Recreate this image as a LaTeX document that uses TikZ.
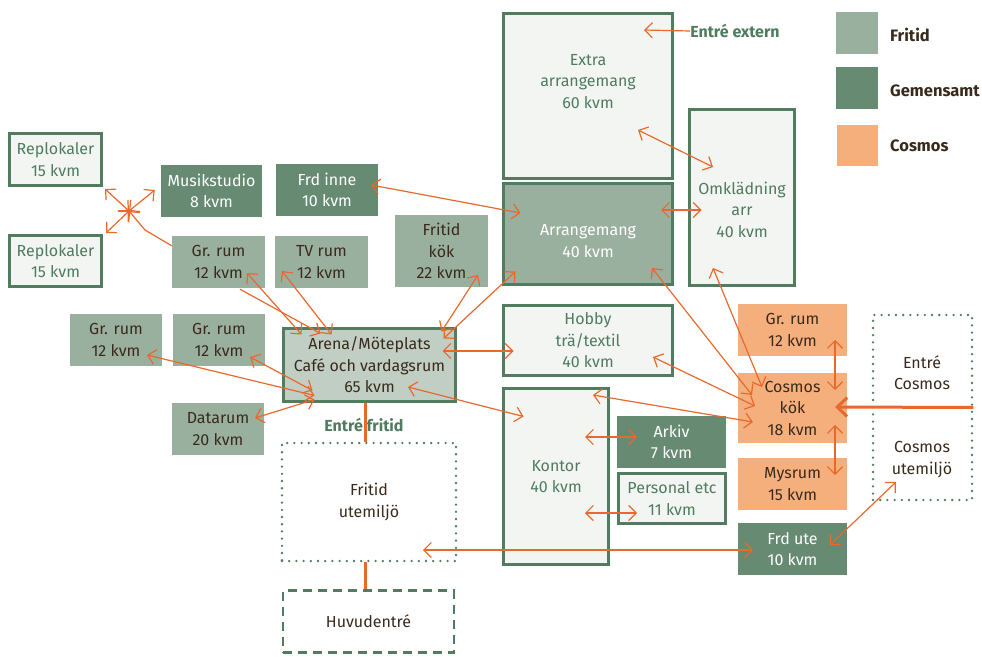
\documentclass[tikz,border=0pt]{standalone}
\usepackage{fontspec}
\setmainfont{Fira Sans}
\usetikzlibrary{arrows.meta}

\definecolor{fritidfill}{HTML}{9AB09F}
\definecolor{gemfill}{HTML}{668A72}
\definecolor{cosmosfill}{HTML}{F5AF7D}
\definecolor{lightfill}{HTML}{F3F5F2}
\definecolor{arenafill}{HTML}{C0CEC3}
\definecolor{bordergreen}{HTML}{527C60}
\definecolor{greentext}{HTML}{4F7B5F}
\definecolor{darktext}{HTML}{3A2A1C}
\definecolor{linkorange}{HTML}{E8692C}

\newcommand{\roomfont}{\fontsize{16}{21.5}\selectfont}

\tikzset{
  room/.style={rectangle, inner sep=0pt, align=center, font=\roomfont},
  fritid/.style={room, fill=fritidfill, text=darktext},
  gemen/.style={room, fill=gemfill, text=white},
  cosmos/.style={room, fill=cosmosfill, text=darktext},
  lightroom/.style={room, fill=lightfill, draw=bordergreen, line width=3pt, text=greentext},
  outdoor/.style={room, draw=bordergreen, line width=2.6pt, dash pattern=on 0pt off 7.2pt, line cap=round, text=darktext},
  plain/.style={inner sep=0pt, align=center, font=\roomfont, text=darktext},
  entry/.style={inner sep=0pt, font=\roomfont\bfseries, text=greentext},
  legendtext/.style={inner sep=0pt, anchor=west, font=\fontsize{16.5}{20}\selectfont\bfseries, text=darktext},
  barb/.tip={Straight Barb[length=7.5pt, width=15pt]},
  link/.style={draw=linkorange, line width=1.2pt, barb-barb},
  onelink/.style={draw=linkorange, line width=1.2pt, -barb},
  trunk/.style={draw=linkorange, line width=3pt},
}

\begin{document}
\begin{tikzpicture}[x=1pt, y=-1pt]
\useasboundingbox (0,0) rectangle (982,656);

% ---- Legend ----
\node[room, fill=fritidfill, minimum width=42, minimum height=42] (legF) at (857,33) {};
\node[room, fill=gemfill, minimum width=42, minimum height=42] (legG) at (857,88) {};
\node[room, fill=cosmosfill, minimum width=41, minimum height=41] (legC) at (857.5,145.5) {};
\node[legendtext] (legFt) at (890,35) {Fritid};
\node[legendtext] (legGt) at (890,91) {Gemensamt};
\node[legendtext] (legCt) at (890,146) {Cosmos};

% ---- Fritid wing ----
\node[lightroom, minimum width=92, minimum height=52] (rep1) at (55.5,159.5) {Replokaler\\15 kvm};
\node[lightroom, minimum width=92, minimum height=51] (rep2) at (55.5,261) {Replokaler\\15 kvm};
\node[gemen, minimum width=101, minimum height=52] (musik) at (211.5,191) {Musikstudio\\8 kvm};
\node[gemen, minimum width=102, minimum height=52] (frdinne) at (327,190) {Frd inne\\10 kvm};
\node[fritid, minimum width=93, minimum height=52] (grrum1) at (218.5,262) {Gr. rum\\12 kvm};
\node[fritid, minimum width=93, minimum height=52] (tvrum) at (321.5,262) {TV rum\\12 kvm};
\node[fritid, minimum width=93, minimum height=72] (kok) at (441.5,251) {Fritid\\kök\\22 kvm};
\node[fritid, minimum width=92, minimum height=52] (grrumL) at (116,340) {Gr. rum\\12 kvm};
\node[fritid, minimum width=92, minimum height=52] (grrumM) at (219,340) {Gr. rum\\12 kvm};
\node[fritid, minimum width=92, minimum height=52] (data) at (218,429) {Datarum\\20 kvm};
\node[room, fill=arenafill, draw=bordergreen, line width=3pt, text=darktext,
      minimum width=172, minimum height=73] (arena) at (369.5,365)
      {Arena/Möteplats\\Café och vardagsrum\\65 kvm};
\node[entry] (entfri) at (364,425) {Entré fritid};
\node[outdoor, minimum width=174, minimum height=118] (utefri) at (369,502) {Fritid\\utemiljö};
\node[room, draw=bordergreen, line width=2.5pt, dash pattern=on 9pt off 6pt, text=darktext,
      minimum width=171, minimum height=62] (huvud) at (368.5,621.5) {Huvudentré};

% ---- Shared block ----
\node[lightroom, minimum width=169, minimum height=165] (extra) at (588,96) {};
\node[plain, text=greentext] (extratxt) at (588,81.5) {Extra\\arrangemang\\60 kvm};
\node[entry] (entext) at (735,31) {Entré extern};
\node[room, fill=fritidfill, draw=bordergreen, line width=3pt,
      minimum width=169, minimum height=101] (arr) at (588,234) {};
\node[plain, text=white] (arrtxt) at (588,241) {Arrangemang\\40 kvm};
\node[lightroom, minimum width=105, minimum height=176] (omkl) at (742,197.5) {};
\node[plain, text=greentext] (omkltxt) at (742,209.5) {Omklädning\\arr\\40 kvm};
\node[lightroom, minimum width=169, minimum height=70] (hobby) at (588,340.5) {Hobby\\trä/textil\\40 kvm};
\node[lightroom, minimum width=105, minimum height=176] (kontor) at (556,476.5) {Kontor\\40 kvm};
\node[gemen, minimum width=109, minimum height=52] (arkiv) at (671.5,442) {Arkiv\\7 kvm};
\node[lightroom, minimum width=107, minimum height=50] (pers) at (672,498.5) {Personal etc\\11 kvm};

% ---- Cosmos wing ----
\node[cosmos, minimum width=109, minimum height=52] (cgr) at (792.5,330) {Gr. rum\\12 kvm};
\node[cosmos, minimum width=109, minimum height=70] (ckok) at (792.5,408) {Cosmos\\kök\\18 kvm};
\node[cosmos, minimum width=109, minimum height=52] (mys) at (792.5,484) {Mysrum\\15 kvm};
\node[gemen, minimum width=109, minimum height=52] (frdute) at (792.5,549) {Frd ute\\10 kvm};
\node[outdoor, minimum width=99, minimum height=185] (cbox) at (922.5,407.5) {};
\node[plain] (entcos) at (922,372.5) {Entré\\Cosmos};
\node[plain] (cosute) at (922,459.5) {Cosmos\\utemiljö};

% ---- Rehearsal cluster around a common junction ----
\coordinate (hub) at (129,211);
\draw[link] ([shift={(2,2)}]rep1.south east) -- (hub);
\draw[link] ([shift={(3,-1)}]rep2.north east) -- (hub);
\draw[link] ([shift={(-6,-1)}]musik.west) -- (hub);
\draw[onelink] ([shift={(0,10)}]grrum1.north west) -- (145,230) -- (hub);

% ---- Links into the arena ----
\draw[link] ([shift={(-7,-5)}]frdinne.east) -- ([shift={(18.5,-21)}]arr.west);
\draw[link] ([shift={(28.5,11)}]grrum1.center) -- ([shift={(19.5,7.5)}]arena.north west);
\draw[onelink] ([shift={(21.5,1)}]grrum1.south) -- ([shift={(38.5,6.5)}]arena.north west);
\draw[link] ([shift={(-39.5,9)}]tvrum.center) -- ([shift={(49.5,7.5)}]arena.north west);
\draw[link] ([shift={(36.5,24)}]kok.center) -- ([shift={(-15.5,4.5)}]arena.north east);
\draw[link] ([shift={(13.5,-14.5)}]arr.south west) -- ([shift={(-13.5,11.5)}]arena.north east);
\draw[link] ([shift={(-14.5,-14)}]arena.east) -- ([shift={(11.5,10.5)}]hobby.west);
\draw[link] ([shift={(38.5,22)}]arena.center) -- ([shift={(21.5,29.5)}]kontor.north west);
\draw[link] ([shift={(31,15)}]grrumL.center) -- ([shift={(32.5,-7.5)}]arena.south west);
\draw[link] ([shift={(31,17)}]grrumM.center) -- ([shift={(30.5,-12.5)}]arena.south west);
\draw[link] ([shift={(37,-11)}]data.center) -- ([shift={(32.5,-3.5)}]arena.south west);

% ---- Event rooms ----
\draw[onelink] (entext.west) -- ([shift={(56,-66)}]extra.center);
\draw[link] ([shift={(50,34)}]extra.center) -- ([shift={(-29,-30.5)}]omkl.center);
\draw[link] ([shift={(73,-24)}]arr.center) -- ([shift={(13.5,12.5)}]omkl.west);

% ---- Links into the Cosmos kitchen ----
\draw[link] ([shift={(64,34)}]arr.center) -- ([shift={(-40.5,-13)}]ckok.center);
\draw[link] ([shift={(-29,70.5)}]omkl.center) -- ([shift={(-30.5,-21)}]ckok.center);
\draw[link] ([shift={(65,16.5)}]hobby.center) -- ([shift={(-37.5,-2)}]ckok.center);
\draw[link] ([shift={(37,-81.5)}]kontor.center) -- ([shift={(-39.5,14)}]ckok.center);
\draw[link] ([shift={(42.5,10)}]cgr.center) -- ([shift={(42.5,-18)}]ckok.center);
\draw[link] ([shift={(42.5,17)}]ckok.center) -- ([shift={(42.5,-9)}]mys.center);
\draw[trunk, -{Straight Barb[length=10pt, width=19pt]}] (cbox.east) -- ([shift={(42.5,-1)}]ckok.center);

% ---- Office ----
\draw[link] ([shift={(29,-39.5)}]kontor.center) -- ([shift={(-34.5,-5)}]arkiv.center);
\draw[link] ([shift={(29,36.5)}]kontor.center) -- ([shift={(-35,14.5)}]pers.center);

% ---- Outdoor links ----
\draw[link] ([shift={(54,48)}]utefri.center) -- ([shift={(-39.5,1)}]frdute.center);
\draw[link] ([shift={(37.5,-4)}]frdute.center) -- ([shift={(-26.5,74.5)}]cbox.center);

% ---- Main entrance spine ----
\draw[trunk] ([xshift=-4.5pt]arena.south) -- ([xshift=-4pt]utefri.north);
\draw[trunk] ([xshift=-4pt]utefri.south) -- ([xshift=-3.5pt]huvud.north);
\end{tikzpicture}
\end{document}
